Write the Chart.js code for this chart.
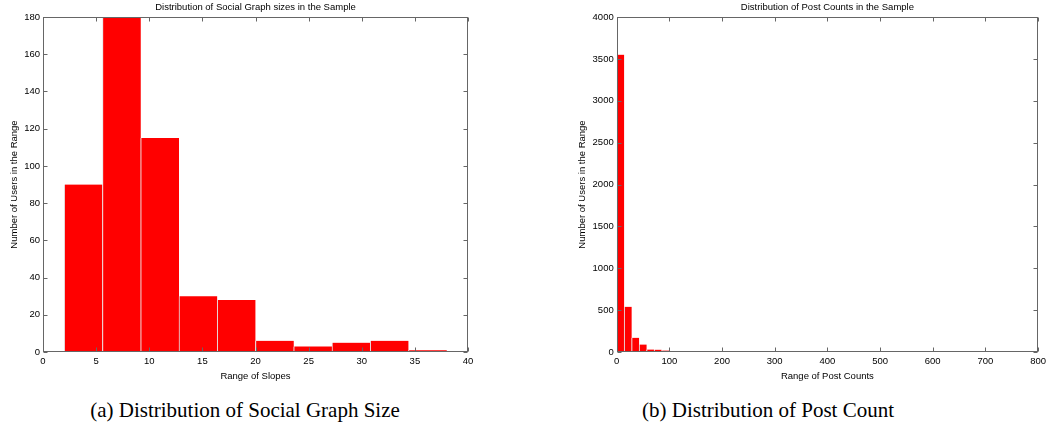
<!DOCTYPE html>
<html>
<head>
<meta charset="utf-8">
<script src="https://cdn.jsdelivr.net/npm/chart.js@4/dist/chart.umd.min.js"></script>
<style>
    body { margin: 0; background: #fff; }
    .wrap { position: relative; width: 1050px; height: 435px; overflow: hidden; }
    canvas { position: absolute; top: 0; }
    .caption {
        position: absolute; top: 398px; line-height: 24px;
        font-family: "Liberation Serif", "DejaVu Serif", serif; font-size: 21px;
        color: #000; text-align: center; white-space: nowrap;
    }
</style>
</head>
<body>
<div class="wrap">
    <canvas id="slopeChart" width="525" height="390" style="left:0"></canvas>
    <canvas id="postChart" width="525" height="390" style="left:525px"></canvas>
    <div class="caption" style="left:0; width:490px">(a) Distribution of Social Graph Size</div>
    <div class="caption" style="left:536px; width:464px">(b) Distribution of Post Count</div>
</div>
<script>
// Histograma (a): centros de los intervalos y usuarios por intervalo
const slopeBins = [3.8, 7.4, 11, 14.6, 18.2, 21.8, 25.4, 29, 32.6, 36.2];
const slopeUsers = [90, 180, 115, 30, 28, 6, 3, 5, 6, 1];
const slopeXTicks = [0, 5, 10, 15, 20, 25, 30, 35, 40];
const slopeYTicks = [0, 20, 40, 60, 80, 100, 120, 140, 160, 180];

// Histograma (b)
const postBins = [7.1, 21.3, 35.5, 49.7, 63.9, 78.1, 92.3, 106.5, 120.7, 134.9, 149.1];
const postUsers = [3550, 540, 170, 90, 30, 28, 18, 5, 10, 0, 5];
const postXTicks = [0, 100, 200, 300, 400, 500, 600, 700, 800];
const postYTicks = [0, 500, 1000, 1500, 2000, 2500, 3000, 3500, 4000];

const FONT = "'Liberation Sans', Arial, sans-serif";
const FSIZE = 9.5;

// Marco completo con marcas hacia dentro (estilo MATLAB)
const frameTicks = {
    id: 'frameTicks',
    afterDatasetsDraw(chart) {
        const { ctx, chartArea: a, scales: { x, y } } = chart;
        const L = Math.round(a.left) + 0.5, R = Math.round(a.right) - 0.5;
        const T = Math.round(a.top) + 0.5, B = Math.round(a.bottom) - 0.5;
        const len = 4;
        ctx.save();
        ctx.strokeStyle = '#666';
        ctx.lineWidth = 1;
        ctx.beginPath();
        x.ticks.forEach(t => {
            const px = Math.round(x.getPixelForValue(t.value)) + 0.5;
            ctx.moveTo(px, B); ctx.lineTo(px, B - len);
            ctx.moveTo(px, T); ctx.lineTo(px, T + len);
        });
        y.ticks.forEach(t => {
            const py = Math.round(y.getPixelForValue(t.value)) + 0.5;
            ctx.moveTo(L, py); ctx.lineTo(L + len, py);
            ctx.moveTo(R, py); ctx.lineTo(R - len, py);
        });
        ctx.stroke();
        ctx.strokeRect(L, T, R - L, B - T);
        ctx.restore();
    }
};

function buildHistogram(canvasId, cfg) {
    const ctx = document.getElementById(canvasId);
    return new Chart(ctx, {
        type: 'bar',
        data: {
            datasets: [{
                data: cfg.bins.map((b, i) => ({ x: b, y: cfg.values[i] })),
                backgroundColor: '#ff0000',
                borderColor: '#e6e6e6',
                borderWidth: { left: 1, right: 0, top: 0, bottom: 0 },
                borderSkipped: false,
                barPercentage: 1,
                categoryPercentage: 1
            }]
        },
        options: {
            responsive: false,
            animation: false,
            layout: { padding: { left: 0, right: cfg.padRight, top: 0, bottom: 0 } },
            plugins: {
                legend: { display: false },
                tooltip: { enabled: false },
                title: {
                    display: true,
                    text: cfg.title,
                    fullSize: false,
                    color: '#000',
                    font: { family: FONT, size: FSIZE, weight: 'normal', lineHeight: 1.2 },
                    padding: { top: 1.6, bottom: 4 }
                }
            },
            scales: {
                x: {
                    type: 'linear',
                    offset: false,
                    min: cfg.xTicks[0],
                    max: cfg.xTicks[cfg.xTicks.length - 1],
                    afterFit: s => { s.height = 38; },
                    afterBuildTicks: s => { s.ticks = cfg.xTicks.map(v => ({ value: v })); },
                    grid: { display: false, drawTicks: false },
                    border: { display: false },
                    ticks: {
                        color: '#000', padding: 4, maxRotation: 0, autoSkip: false,
                        font: { family: FONT, size: FSIZE },
                        callback: v => String(v)
                    },
                    title: {
                        display: true, text: cfg.xTitle, color: '#000',
                        font: { family: FONT, size: FSIZE },
                        padding: { top: 0, bottom: 8.3 }
                    }
                },
                y: {
                    min: cfg.yTicks[0],
                    max: cfg.yTicks[cfg.yTicks.length - 1],
                    afterFit: s => { s.width = cfg.yWidth; },
                    afterBuildTicks: s => { s.ticks = cfg.yTicks.map(v => ({ value: v })); },
                    grid: { display: false, drawTicks: false },
                    border: { display: false },
                    ticks: {
                        color: '#000', padding: 3, autoSkip: false,
                        font: { family: FONT, size: FSIZE },
                        callback: v => String(v)
                    },
                    title: {
                        display: true, text: 'Number of Users in the Range', color: '#000',
                        font: { family: FONT, size: FSIZE },
                        padding: { top: cfg.yTitlePad, bottom: 0 }
                    }
                }
            }
        },
        plugins: [frameTicks]
    });
}

buildHistogram('slopeChart', {
    title: 'Distribution of Social Graph sizes in the Sample',
    xTitle: 'Range of Slopes',
    bins: slopeBins, values: slopeUsers,
    xTicks: slopeXTicks, yTicks: slopeYTicks,
    yWidth: 43, yTitlePad: 8.3, padRight: 57
});

buildHistogram('postChart', {
    title: 'Distribution of Post Counts in the Sample',
    xTitle: 'Range of Post Counts',
    bins: postBins, values: postUsers,
    xTicks: postXTicks, yTicks: postYTicks,
    yWidth: 91.7, yTitlePad: 51.6, padRight: 7.7
});
</script>
</body>
</html>
